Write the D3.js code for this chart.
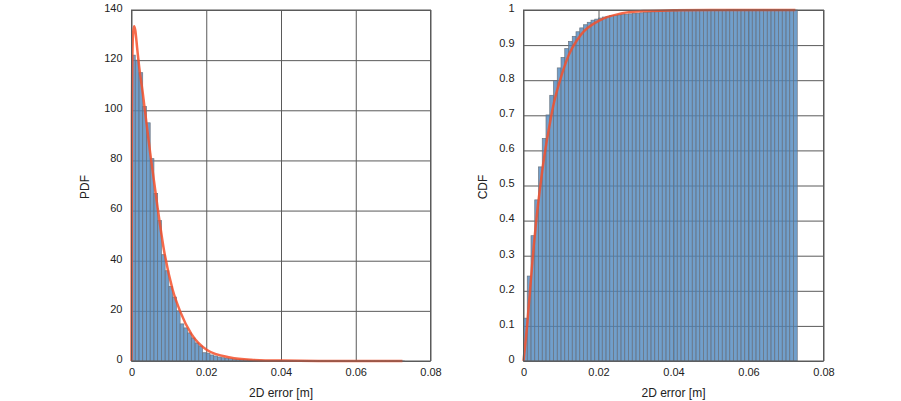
<!DOCTYPE html>
<html>
<head>
<meta charset="utf-8">
<script src="https://cdn.jsdelivr.net/npm/d3@7"></script>
<style>
  html, body { margin: 0; padding: 0; background: #fff; }
  svg { display: block; font-family: "Liberation Sans", Arial, sans-serif; }
</style>
</head>
<body>
<svg id="chart" width="901" height="401"></svg>
<script>
// ---------------- data ----------------
const binWidth = 0.001;
const pdfBins = [122, 120, 115, 101.5, 95, 80.7, 66.8, 56, 42.4, 36, 29.7, 25.5, 20, 14.8, 13.2, 11.2, 9.2, 7.2, 6, 3.3,
  3.1, 2.4, 2.0, 1.6, 1.3, 1.1, 0.9, 0.8, 0.7, 0.6, 0.5, 0.45, 0.4, 0.35, 0.3, 0.25, 0.2, 0.18, 0.16, 0.14,
  0.12, 0.1, 0.09, 0.08, 0.07, 0.06, 0.05, 0.05, 0.04, 0.04, 0.03, 0.03, 0.03, 0.02, 0.02, 0.02, 0.02, 0.01,
  0.01, 0.01, 0.01, 0.01, 0.01, 0.01, 0.01, 0.01, 0.01, 0.01, 0.01, 0.01, 0.01, 0.01, 0.01];
const cdfBins = [0.122, 0.242, 0.357, 0.459, 0.553, 0.634, 0.701, 0.757, 0.799, 0.835, 0.865, 0.890, 0.910, 0.925,
  0.938, 0.949, 0.958, 0.965, 0.971, 0.974, 0.977, 0.980, 0.982, 0.984, 0.985, 0.986, 0.987, 0.988, 0.989,
  0.990, 0.991, 0.992, 0.993, 0.994, 0.995, 0.995, 0.996, 0.996, 0.997, 0.997, 0.997, 0.998, 0.998, 0.998,
  0.998, 0.999, 0.999, 0.999, 0.999, 0.999, 0.999, 0.999, 0.999, 0.999, 1, 1, 1, 1, 1, 1, 1, 1, 1, 1, 1, 1,
  1, 1, 1, 1, 1, 1, 1];
const pdfCurveX = [0, 0.0001, 0.0002, 0.0004, 0.0007, 0.001, 0.0015, 0.002, 0.003, 0.004, 0.005, 0.006, 0.007,
  0.0086, 0.011, 0.0131, 0.016, 0.0202, 0.0264, 0.032, 0.04, 0.05, 0.06, 0.0725];
const pdfCurveY = [0, 95, 118, 130, 133.5, 132, 125, 118, 107, 95, 83, 72, 61, 45, 28.5, 19.5, 10.8, 4.4, 1.4,
  0.5, 0.15, 0.04, 0.01, 0];
const cdfCurveX = [0, 0.0005, 0.001, 0.002, 0.00275, 0.0035, 0.0045, 0.0055, 0.00675, 0.008, 0.0099, 0.012,
  0.0152, 0.0206, 0.026, 0.032, 0.04, 0.05, 0.0725];
const cdfCurveY = [0, 0.05, 0.105, 0.235, 0.33, 0.41, 0.5, 0.58, 0.66, 0.73, 0.805, 0.87, 0.928, 0.972, 0.99,
  0.997, 0.999, 1, 1];
const xTicks = [0, 0.02, 0.04, 0.06, 0.08];
const pdfTicks = [0, 20, 40, 60, 80, 100, 120, 140];
const cdfTicks = [0, 0.1, 0.2, 0.3, 0.4, 0.5, 0.6, 0.7, 0.8, 0.9, 1];
const xTitle = "2D error [m]";

// ---------------- drawing ----------------
const svg = d3.select("#chart");
const plotTop = 10, plotBottom = 361;

function panel(cfg) {
  const x = d3.scaleLinear().domain([0, 0.08]).range([cfg.left, cfg.right]);
  const y = d3.scaleLinear().domain(cfg.yDomain).range([plotBottom, plotTop]);
  const w = cfg.right - cfg.left, h = plotBottom - plotTop;
  const g = svg.append("g");

  // grid + labels via axes
  const gx = g.append("g").attr("transform", `translate(0,${plotBottom})`)
    .call(d3.axisBottom(x).tickValues(xTicks).tickSize(-h).tickPadding(5).tickFormat(d3.format("")));
  const gy = g.append("g").attr("transform", `translate(${cfg.left},0)`)
    .call(d3.axisLeft(y).tickValues(cfg.yTicks).tickSize(-w).tickPadding(9).tickFormat(d3.format("")));
  [gx, gy].forEach(a => {
    a.select(".domain").remove();
    a.selectAll(".tick line").attr("stroke", "#5a5a5a").attr("stroke-width", 1);
    a.selectAll(".tick text").attr("fill", "#222").style("font-size", "11px")
      .style("font-family", "'Liberation Sans', Arial, sans-serif");
  });
  gy.selectAll(".tick text").attr("dy", "0.12em");
  gx.selectAll(".tick text").attr("dy", "0.9em");

  // bars
  g.append("g").selectAll("rect").data(cfg.bins).join("rect")
    .attr("x", (d, i) => x(i * binWidth))
    .attr("width", x(binWidth) - x(0))
    .attr("y", d => y(d))
    .attr("height", d => y(0) - y(d))
    .attr("fill", "#4e87be").attr("fill-opacity", 0.8)
    .attr("stroke", "#6b7480").attr("stroke-width", 0.7);

  // curve
  const line = d3.line().x(d => x(d[0])).y(d => y(d[1])).curve(d3.curveMonotoneX);
  g.append("path").datum(cfg.cx.map((v, i) => [v, cfg.cy[i]]))
    .attr("d", line).attr("fill", "none")
    .attr("stroke", "#f4502c").attr("stroke-opacity", 0.85).attr("stroke-width", 2.5)
    .attr("stroke-linejoin", "round");

  // frame
  g.append("rect").attr("x", cfg.left).attr("y", plotTop).attr("width", w).attr("height", h)
    .attr("fill", "none").attr("stroke", "#5a5a5a").attr("stroke-width", 1);

  // titles
  g.append("text").attr("x", (cfg.left + cfg.right) / 2).attr("y", 397)
    .attr("text-anchor", "middle").attr("fill", "#222").style("font-size", "12px").text(xTitle);
  g.append("text").attr("transform", `translate(${cfg.left - cfg.titleOffset},187) rotate(-90)`)
    .attr("text-anchor", "middle").attr("fill", "#222").style("font-size", "12px").text(cfg.yTitle);
}

panel({ left: 131.5, right: 430.5, yDomain: [0, 140], yTicks: pdfTicks, bins: pdfBins,
        cx: pdfCurveX, cy: pdfCurveY, yTitle: "PDF", titleOffset: 43 });
panel({ left: 523.5, right: 823.5, yDomain: [0, 1], yTicks: cdfTicks, bins: cdfBins,
        cx: cdfCurveX, cy: cdfCurveY, yTitle: "CDF", titleOffset: 37 });
</script>
</body>
</html>
